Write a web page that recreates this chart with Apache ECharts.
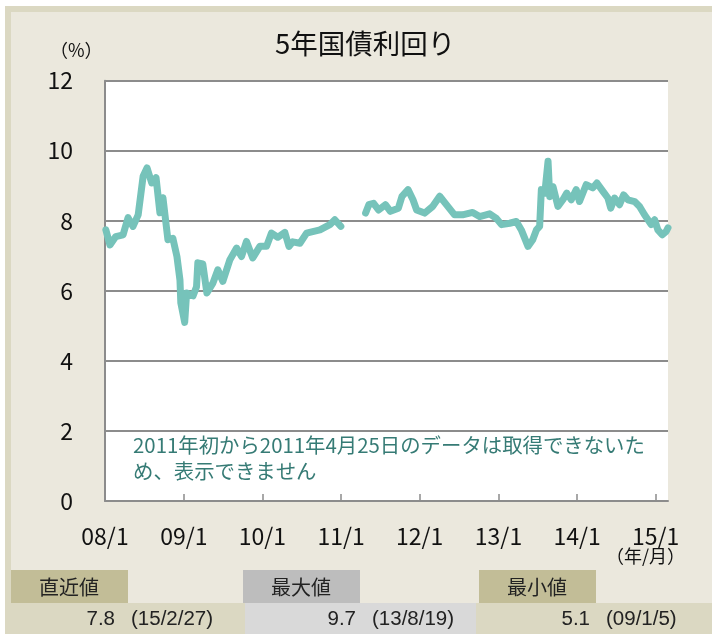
<!DOCTYPE html>
<html>
<head>
<meta charset="utf-8">
<script src="https://cdn.jsdelivr.net/npm/echarts@6/dist/echarts.min.js"></script>
<style>
  html, body { margin: 0; padding: 0; background: #fff; }
  #chart { width: 712px; height: 634px; }
</style>
</head>
<body>
<div id="chart"></div>
<script>
// 5年国債利回り (%)  null = 2011年初〜4/25 データなし
const dates = [
  '2008-01-05', '2008-01-24', '2008-02-20', '2008-03-25', '2008-04-17', '2008-05-10',
  '2008-06-03', '2008-06-26', '2008-07-14', '2008-08-05', '2008-08-25', '2008-09-12',
  '2008-09-26', '2008-10-19', '2008-11-11', '2008-11-30', '2008-12-14', '2008-12-18',
  '2009-01-05', '2009-01-14', '2009-02-13', '2009-03-01', '2009-03-07', '2009-03-30',
  '2009-04-18', '2009-05-16', '2009-06-08', '2009-07-01', '2009-08-03', '2009-09-03',
  '2009-09-26', '2009-10-19', '2009-11-17', '2009-12-20', '2010-01-20', '2010-02-12',
  '2010-03-13', '2010-04-15', '2010-05-04', '2010-05-22', '2010-06-24', '2010-07-25',
  '2010-09-25', '2010-11-10', '2010-12-03', '2010-12-31', '2011-02-15',
  '2011-04-25', '2011-05-10', '2011-06-01', '2011-06-24', '2011-07-26', '2011-08-18',
  '2011-09-24', '2011-10-11', '2011-11-08', '2011-12-01', '2011-12-18', '2012-01-24',
  '2012-03-01', '2012-04-03', '2012-05-04', '2012-06-11', '2012-07-18', '2012-09-03',
  '2012-10-05', '2012-11-21', '2012-12-22', '2013-01-15', '2013-02-22', '2013-03-25',
  '2013-04-17', '2013-05-18', '2013-06-09', '2013-06-26', '2013-07-11', '2013-07-16',
  '2013-07-19', '2013-08-04', '2013-08-19', '2013-08-27', '2013-09-11', '2013-10-04',
  '2013-10-27', '2013-11-14', '2013-12-05', '2013-12-28', '2014-01-12', '2014-02-12',
  '2014-03-15', '2014-04-03', '2014-05-01', '2014-05-24', '2014-06-06', '2014-06-24',
  '2014-07-17', '2014-08-05', '2014-08-25', '2014-09-25', '2014-10-18', '2014-11-10',
  '2014-11-26', '2014-12-11', '2014-12-27', '2015-01-11', '2015-01-31', '2015-02-19',
  '2015-02-27'
]
const yields = [
  7.74, 7.31, 7.55, 7.6, 8.09, 7.84,
  8.17, 9.27, 9.51, 9.08, 9.23, 8.23,
  8.66, 7.46, 7.5, 6.98, 6.31, 5.66,
  5.1, 5.94, 5.86, 6.12, 6.8, 6.77,
  5.94, 6.22, 6.6, 6.27, 6.89, 7.22,
  6.98, 7.41, 6.94, 7.27, 7.27, 7.65,
  7.53, 7.67, 7.27, 7.4, 7.36, 7.65,
  7.74, 7.89, 8.03, 7.84, null,
  8.22, 8.46, 8.5, 8.31, 8.46, 8.27,
  8.36, 8.7, 8.89, 8.6, 8.31, 8.22,
  8.41, 8.7, 8.46, 8.17, 8.17, 8.24,
  8.12, 8.2, 8.07, 7.89, 7.93, 7.98,
  7.74, 7.27, 7.46, 7.74, 7.84, 8.5,
  8.89, 8.79, 9.7, 8.69, 8.98, 8.41,
  8.6, 8.79, 8.6, 8.89, 8.55, 9.03,
  8.94, 9.08, 8.84, 8.65, 8.36, 8.65,
  8.46, 8.74, 8.6, 8.55, 8.41, 8.17,
  8.03, 7.89, 8.03, 7.74, 7.6, 7.7,
  7.8
]
const yearTicks = ['2008-01-01', '2009-01-01', '2010-01-01', '2011-01-01',
  '2012-01-01', '2013-01-01', '2014-01-01', '2015-01-01']
const tickLabels = ['08/1', '09/1', '10/1', '11/1', '12/1', '13/1', '14/1', '15/1']

// 直近値・最大値・最小値
const statNames = ['直近値', '最大値', '最小値']
const statValues = ['7.8', '9.7', '5.1']
const statDates = ['(15/2/27)', '(13/8/19)', '(09/1/5)']

const FONT = '"Noto Sans CJK JP", "Noto Sans", sans-serif'
const NUMFONT = '"Liberation Sans", Arial, sans-serif'
const chart = echarts.init(document.getElementById('chart'))

const toTime = d => +echarts.number.parseDate(d)
const tickTimes = yearTicks.map(toTime)

// 下の表
const headX = [11, 243, 479]
const headFill = ['#c2bd97', '#bdbdbd', '#c2bd97']
const rowX = [11, 245, 476]
const rowW = [234, 231, 236]
const rowFill = ['#dbd8c2', '#d9d9d9', '#dbd8c2']
const valRight = [115, 356, 590]
const tableGraphics = []
for (let i = 0; i < 3; i++) {
  tableGraphics.push({
    type: 'rect', z: -5, shape: { x: headX[i], y: 570, width: 117, height: 33 },
    style: { fill: headFill[i] }
  })
  tableGraphics.push({
    type: 'text', z: 5, x: headX[i] + 58, y: 587,
    style: { text: statNames[i], font: '20px ' + FONT, fill: '#222', align: 'center', verticalAlign: 'middle' }
  })
  tableGraphics.push({
    type: 'rect', z: -5, shape: { x: rowX[i], y: 603, width: rowW[i], height: 31 },
    style: { fill: rowFill[i] }
  })
  tableGraphics.push({
    type: 'text', z: 5, x: valRight[i], y: 619,
    style: { text: statValues[i], font: '20.5px ' + NUMFONT, fill: '#222', align: 'right', verticalAlign: 'middle' }
  })
  tableGraphics.push({
    type: 'text', z: 5, x: valRight[i] + 16, y: 619,
    style: { text: statDates[i], font: '20.5px ' + NUMFONT, fill: '#222', align: 'left', verticalAlign: 'middle' }
  })
}

const options = {
  backgroundColor: '#fff',
  animation: false,
  title: {
    text: '5年国債利回り',
    left: 270,
    top: 25,
    textStyle: { fontFamily: FONT, fontSize: 27.5, fontWeight: 'normal', color: '#111' }
  },
  grid: {
    left: 105,
    top: 80.7,
    right: 44,
    bottom: 133,
    show: true,
    backgroundColor: '#fff',
    borderWidth: 0
  },
  xAxis: {
    type: 'value',
    z: 2,
    min: toTime('2008-01-01'),
    max: toTime('2015-02-27'),
    axisLine: { show: true, onZero: false, lineStyle: { color: '#8c8c8c', width: 2 } },
    axisTick: {
      show: true, inside: true, length: 7,
      customValues: tickTimes,
      lineStyle: { color: '#8c8c8c', width: 1.5 }
    },
    axisLabel: {
      customValues: tickTimes,
      margin: 24,
      fontFamily: FONT,
      fontSize: 23,
      color: '#111',
      formatter: function (v) {
        const i = tickTimes.indexOf(v)
        return i >= 0 ? tickLabels[i] : ''
      }
    },
    splitLine: { show: false }
  },
  yAxis: {
    type: 'value',
    z: 2,
    min: 0,
    max: 12,
    interval: 2,
    axisLine: { show: true, lineStyle: { color: '#8c8c8c', width: 2 } },
    axisTick: { show: false },
    axisLabel: { margin: 32, fontFamily: FONT, fontSize: 23, color: '#111' },
    splitLine: { show: true, lineStyle: { color: '#8c8c8c', width: 2 } }
  },
  graphic: [
    // 外枠
    { type: 'rect', z: -10, shape: { x: 5, y: 6, width: 707, height: 628 }, style: { fill: '#dbd8c2' } },
    { type: 'rect', z: -9, shape: { x: 11, y: 12, width: 701, height: 622 }, style: { fill: '#ebe8dd' } },
    {
      type: 'text', x: 50, y: 50,
      style: { text: '（%）', font: '18px ' + FONT, fill: '#111', verticalAlign: 'middle' }
    },
    {
      type: 'text', x: 606, y: 556,
      style: { text: '（年/月）', font: '18px ' + FONT, fill: '#111', verticalAlign: 'middle' }
    },
    {
      type: 'text', z: 10, x: 133, y: 432,
      style: {
        text: '2011年初から2011年4月25日のデータは取得できないた\nめ、表示できません',
        font: '20.4px ' + FONT, fill: '#367b75', lineHeight: 26
      }
    }
  ].concat(tableGraphics),
  series: [
    {
      type: 'line',
      data: dates.map((d, i) => [toTime(d), yields[i]]),
      showSymbol: false,
      connectNulls: false,
      lineStyle: { color: '#76c3ba', width: 7, join: 'round', cap: 'round' },
      z: 3
    }
  ]
}
chart.setOption(options)
</script>
</body>
</html>
